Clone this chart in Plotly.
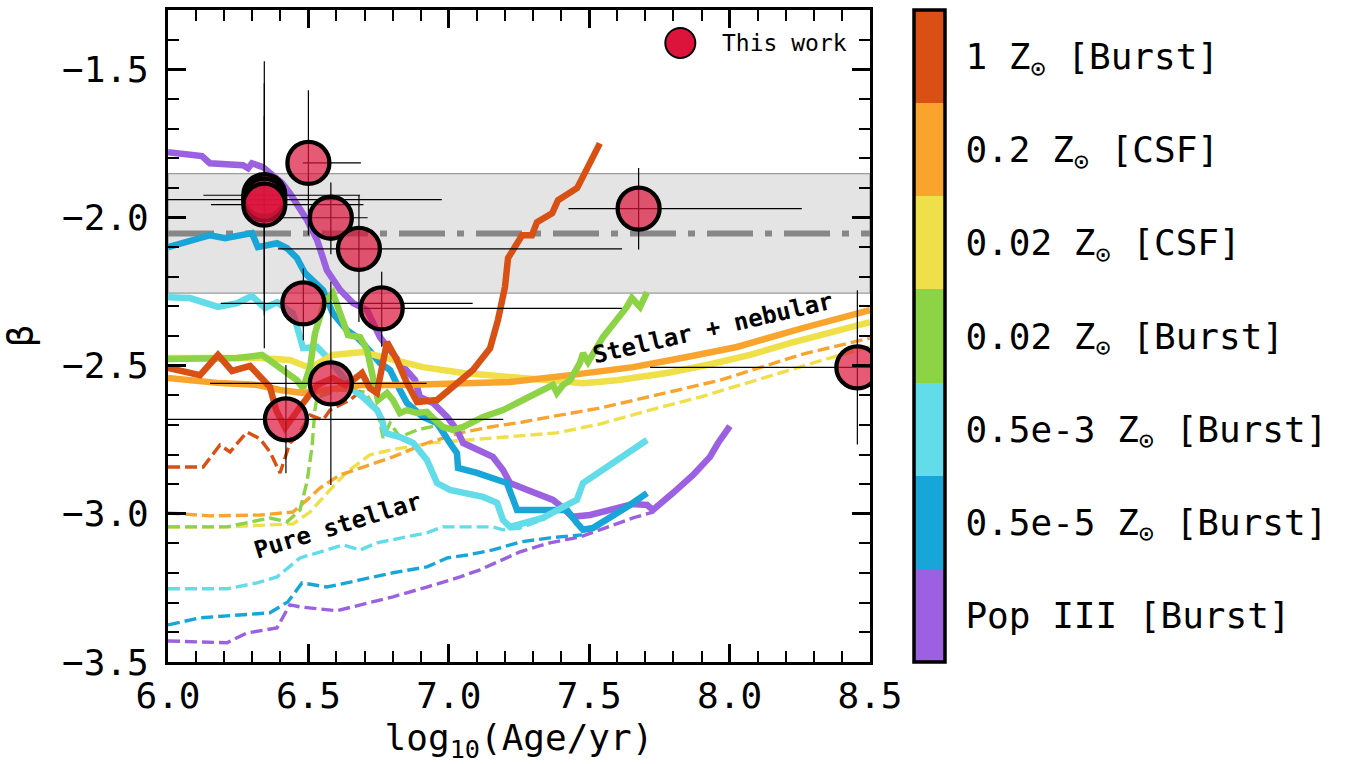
import plotly.graph_objects as go

# ---------------- model tracks (log10 age, beta) ----------------
# Pop III [Burst]
popIII_x = [6.000, 6.121, 6.149, 6.267, 6.285, 6.299, 6.338, 6.363, 6.406, 6.434, 6.495, 6.531, 6.566, 6.613, 6.659,
            6.709, 6.755, 6.826, 6.880, 6.897, 6.944, 6.994, 7.029, 7.051, 7.111, 7.157, 7.193, 7.218, 7.278, 7.371,
            7.407, 7.439, 7.503, 7.599, 7.656, 7.706, 7.727, 7.798, 7.870, 7.930, 7.959, 8.001]
popIII_y = [-1.780, -1.793, -1.817, -1.824, -1.834, -1.817, -1.830, -1.851, -1.884, -1.918, -2.009, -2.076, -2.178, -2.245, -2.289,
            -2.313, -2.404, -2.491, -2.549, -2.606, -2.626, -2.673, -2.717, -2.761, -2.785, -2.808, -2.852, -2.896, -2.919, -2.953,
            -2.980, -3.010, -3.004, -2.980, -2.967, -2.970, -2.987, -2.930, -2.869, -2.808, -2.761, -2.704]
popIII_st_x = [6.000, 6.210, 6.281, 6.388, 6.434, 6.470, 6.602, 6.684, 6.801, 6.922, 7.040, 7.111, 7.254, 7.360, 7.467,
               7.538, 7.656, 7.727]
popIII_st_y = [-3.429, -3.435, -3.402, -3.385, -3.307, -3.314, -3.327, -3.307, -3.280, -3.247, -3.213, -3.189, -3.128, -3.098, -3.078,
               -3.054, -3.014, -2.994]

# 0.5e-5 Zsun [Burst]
z5e5_x = [6.000, 6.150, 6.203, 6.299, 6.320, 6.353, 6.388, 6.424, 6.459, 6.488, 6.516, 6.552, 6.587, 6.637, 6.673, 6.694,
          6.755, 6.791, 6.826, 6.851, 6.908, 6.958, 7.004, 7.029, 7.033, 7.100, 7.207, 7.229, 7.243, 7.335, 7.421, 7.456,
          7.478, 7.513, 7.563, 7.634, 7.706]
z5e5_y = [-2.100, -2.060, -2.070, -2.053, -2.100, -2.093, -2.087, -2.104, -2.137, -2.188, -2.211, -2.245, -2.323, -2.380, -2.404, -2.424,
          -2.491, -2.515, -2.582, -2.626, -2.673, -2.694, -2.761, -2.795, -2.845, -2.862, -2.896, -2.953, -2.987, -2.987, -2.987, -3.031,
          -3.054, -3.048, -3.021, -2.977, -2.930]
z5e5_st_x = [6.000, 6.114, 6.363, 6.427, 6.477, 6.566, 6.684, 6.801, 6.922, 6.994, 7.065, 7.157, 7.254, 7.360, 7.474]
z5e5_st_y = [-3.375, -3.351, -3.334, -3.297, -3.233, -3.247, -3.223, -3.199, -3.179, -3.149, -3.139, -3.122, -3.095, -3.081, -3.071]

# 0.5e-3 Zsun [Burst]
z5e3_x = [6.000, 6.078, 6.178, 6.246, 6.299, 6.345, 6.388, 6.445, 6.463, 6.481, 6.531, 6.566, 6.623, 6.659, 6.694, 6.744,
          6.762, 6.773, 6.826, 6.873, 6.922, 6.958, 7.004, 7.122, 7.172, 7.193, 7.218, 7.264, 7.335, 7.421, 7.456, 7.478,
          7.538, 7.634, 7.706]
z5e3_y = [-2.269, -2.272, -2.302, -2.289, -2.265, -2.306, -2.286, -2.323, -2.380, -2.441, -2.437, -2.471, -2.538, -2.582, -2.606, -2.650,
          -2.683, -2.727, -2.741, -2.761, -2.818, -2.896, -2.919, -2.943, -2.963, -3.021, -3.044, -3.031, -3.014, -2.970, -2.953, -2.896,
          -2.859, -2.801, -2.751]
z5e3_st_x = [6.000, 6.210, 6.317, 6.388, 6.470, 6.541, 6.623, 6.684, 6.744, 6.922, 6.979, 7.157, 7.193, 7.254, 7.342]
z5e3_st_y = [-3.253, -3.253, -3.233, -3.213, -3.149, -3.128, -3.105, -3.122, -3.098, -3.064, -3.044, -3.044, -3.054, -3.048, -3.017]

# 0.02 Zsun [Burst]
z02b_x = [6.000, 6.246, 6.335, 6.399, 6.459, 6.481, 6.506, 6.523, 6.541, 6.556, 6.587, 6.623, 6.641, 6.684, 6.709, 6.737,
          6.748, 6.780, 6.801, 6.826, 6.851, 6.887, 6.922, 6.944, 6.979, 7.015, 7.051, 7.122, 7.193, 7.264, 7.335, 7.371,
          7.385, 7.407, 7.432, 7.467, 7.478, 7.496, 7.549, 7.599, 7.634, 7.652, 7.681, 7.706]
z02b_y = [-2.478, -2.474, -2.464, -2.505, -2.549, -2.576, -2.505, -2.393, -2.336, -2.289, -2.255, -2.346, -2.397, -2.404, -2.447, -2.572,
          -2.616, -2.592, -2.616, -2.660, -2.650, -2.660, -2.656, -2.677, -2.707, -2.717, -2.707, -2.673, -2.650, -2.616, -2.582, -2.565,
          -2.592, -2.565, -2.549, -2.491, -2.458, -2.488, -2.404, -2.346, -2.302, -2.272, -2.302, -2.252]
z02b_st_x = [6.000, 6.210, 6.363, 6.424, 6.470, 6.495, 6.513, 6.523, 6.531, 6.612, 6.702, 6.748, 6.766, 6.791, 6.826, 6.887, 6.969]
z02b_st_y = [-3.044, -3.044, -3.014, -3.027, -2.987, -2.892, -2.774, -2.650, -2.606, -2.582, -2.589, -2.660, -2.744, -2.694, -2.741, -2.717, -2.700]

# 0.02 Zsun [CSF]
z02c_x = [6.000, 6.328, 6.434, 6.506, 6.587, 6.694, 6.765, 6.908, 7.051, 7.218, 7.396, 7.478, 7.599, 7.777, 7.919, 8.073,
          8.215, 8.368, 8.500]
z02c_y = [-2.474, -2.474, -2.481, -2.508, -2.464, -2.454, -2.471, -2.505, -2.525, -2.538, -2.552, -2.559, -2.549, -2.525, -2.498, -2.464,
          -2.424, -2.383, -2.353]
z02c_st_x = [6.000, 6.210, 6.445, 6.506, 6.577, 6.637, 6.719, 6.791, 6.933, 7.147, 7.385, 7.538, 7.716, 7.895, 8.073, 8.251,
             8.368, 8.500]
z02c_st_y = [-3.044, -3.044, -3.034, -2.994, -2.919, -2.859, -2.801, -2.785, -2.761, -2.744, -2.727, -2.697, -2.650, -2.606, -2.555, -2.505,
             -2.471, -2.437]

# 0.2 Zsun [CSF]
z2c_x = [6.000, 6.185, 6.317, 6.399, 6.481, 6.694, 6.837, 7.218, 7.432, 7.656, 7.848, 8.026, 8.261, 8.500]
z2c_y = [-2.542, -2.559, -2.565, -2.582, -2.592, -2.565, -2.565, -2.555, -2.532, -2.505, -2.471, -2.437, -2.373, -2.313]
z2c_st_x = [6.000, 6.150, 6.328, 6.445, 6.495, 6.541, 6.612, 6.684, 6.801, 6.922, 7.040, 7.147, 7.264, 7.360, 7.538, 7.727,
            7.966, 8.261, 8.500]
z2c_st_y = [-2.997, -3.007, -3.004, -2.994, -2.953, -2.913, -2.869, -2.845, -2.808, -2.761, -2.727, -2.707, -2.690, -2.673, -2.643, -2.602,
            -2.549, -2.461, -2.407]

# 1 Zsun [Burst]
z1b_x = [6.000, 6.114, 6.178, 6.228, 6.292, 6.320, 6.363, 6.385, 6.417, 6.470, 6.531, 6.587, 6.630, 6.659, 6.691, 6.719,
         6.744, 6.780, 6.815, 6.851, 6.887, 6.958, 7.015, 7.086, 7.147, 7.175, 7.200, 7.211, 7.261, 7.296, 7.314, 7.368,
         7.389, 7.457, 7.538]
z1b_y = [-2.508, -2.532, -2.464, -2.518, -2.501, -2.532, -2.572, -2.650, -2.710, -2.640, -2.565, -2.542, -2.565, -2.549, -2.525, -2.576,
         -2.592, -2.420, -2.481, -2.559, -2.623, -2.616, -2.572, -2.515, -2.441, -2.346, -2.235, -2.137, -2.060, -2.060, -2.016, -1.986,
         -1.942, -1.901, -1.750]
z1b_st_x = [6.000, 6.125, 6.185, 6.221, 6.281, 6.328, 6.363, 6.399, 6.434, 6.459, 6.506, 6.552, 6.577, 6.648, 6.691]
z1b_st_y = [-2.842, -2.842, -2.768, -2.791, -2.724, -2.747, -2.791, -2.862, -2.761, -2.741, -2.667, -2.683, -2.650, -2.616, -2.582]

# ---------------- observations ("This work") ----------------
obs_age = [6.343, 6.343, 6.343, 6.500, 6.580, 6.680, 6.482, 6.761, 6.580, 6.420, 7.676, 8.455]
obs_beta = [-1.925, -1.940, -1.957, -1.816, -2.001, -2.106, -2.290, -2.307, -2.560, -2.681, -1.970, -2.506]
obs_age_lo = [0.217, 0.390, 0.190, 0.020, 0.175, 0.288, 0.294, 0.077, 0.430, 0.450, 0.250, 0.738]
obs_age_hi = [0.341, 0.632, 0.353, 0.187, 0.131, 0.937, 0.603, 0.855, 0.341, 0.774, 0.581, 0.740]
obs_beta_lo = [0.516, 0.390, 0.300, 0.244, 0.123, 0.247, 0.124, 0.129, 0.343, 0.182, 0.138, 0.260]
obs_beta_hi = [0.452, 0.393, 0.300, 0.245, 0.119, 0.181, 0.118, 0.124, 0.343, 0.183, 0.137, 0.260]

# reference band
band_beta_low = -2.255
band_beta_high = -1.852
band_beta_mid = -2.054

# colour categories (bottom -> top of colour bar)
cat_labels = ["Pop III [Burst]", "0.5e-5 Z<sub>⊙</sub> [Burst]", "0.5e-3 Z<sub>⊙</sub> [Burst]",
              "0.02 Z<sub>⊙</sub> [Burst]", "0.02 Z<sub>⊙</sub> [CSF]", "0.2 Z<sub>⊙</sub> [CSF]",
              "1 Z<sub>⊙</sub> [Burst]"]
cat_colors = ["#9B61E0", "#18A5D8", "#62DCE8", "#8CD446", "#EFE04A", "#F9A42C", "#D85014"]

FONT = "DejaVu Sans Mono"

fig = go.Figure()

# band + mean line
fig.add_shape(type="rect", xref="paper", x0=0, x1=1, yref="y", y0=band_beta_low, y1=band_beta_high,
              fillcolor="#E4E4E4", line=dict(color="#9C9C9C", width=1.3), layer="below")
fig.add_shape(type="line", xref="paper", x0=0, x1=1, yref="y", y0=band_beta_mid, y1=band_beta_mid,
              line=dict(color="#878787", width=6, dash="46px,12px,7px,12px"), layer="below")

# dashed (pure stellar) tracks
dashed = [
    (popIII_st_x, popIII_st_y, cat_colors[0]),
    (z5e5_st_x, z5e5_st_y, cat_colors[1]),
    (z5e3_st_x, z5e3_st_y, cat_colors[2]),
    (z02c_st_x, z02c_st_y, cat_colors[4]),
    (z2c_st_x, z2c_st_y, cat_colors[5]),
    (z02b_st_x, z02b_st_y, cat_colors[3]),
    (z1b_st_x, z1b_st_y, cat_colors[6]),
]
for xs, ys, c in dashed:
    fig.add_trace(go.Scatter(x=xs, y=ys, mode="lines", line=dict(color=c, width=3.4, dash="12px,5px"),
                             showlegend=False, hoverinfo="skip"))

# solid (stellar + nebular) tracks
solid = [
    (popIII_x, popIII_y, cat_colors[0]),
    (z5e5_x, z5e5_y, cat_colors[1]),
    (z5e3_x, z5e3_y, cat_colors[2]),
    (z02c_x, z02c_y, cat_colors[4]),
    (z2c_x, z2c_y, cat_colors[5]),
    (z02b_x, z02b_y, cat_colors[3]),
    (z1b_x, z1b_y, cat_colors[6]),
]
for xs, ys, c in solid:
    fig.add_trace(go.Scatter(x=xs, y=ys, mode="lines", line=dict(color=c, width=6.5),
                             showlegend=False, hoverinfo="skip"))

# observations
fig.add_trace(go.Scatter(
    x=obs_age, y=obs_beta, mode="markers", showlegend=False,
    marker=dict(size=42, color="rgba(220,20,60,0.7)", line=dict(color="black", width=4.3)),
    error_x=dict(type="data", symmetric=False, array=obs_age_hi, arrayminus=obs_age_lo,
                 color="black", thickness=1.2, width=0),
    error_y=dict(type="data", symmetric=False, array=obs_beta_hi, arrayminus=obs_beta_lo,
                 color="black", thickness=1.2, width=0),
))

# discrete colour bar
n = len(cat_colors)
cscale = []
for i, c in enumerate(cat_colors):
    cscale.append([i / n, c])
    cscale.append([(i + 1) / n, c])
fig.add_trace(go.Scatter(
    x=[None], y=[None], mode="markers", showlegend=False, hoverinfo="skip",
    marker=dict(color=[0], cmin=-0.5, cmax=n - 0.5, colorscale=cscale, showscale=True,
                colorbar=dict(thickness=31, thicknessmode="pixels", len=1, lenmode="fraction",
                              y=0.5, yanchor="middle", x=1.0625, xanchor="left", xpad=0, ypad=0,
                              outlinewidth=3.5, outlinecolor="black",
                              tickvals=list(range(n)), ticktext=cat_labels,
                              ticks="outside", ticklen=12, tickcolor="rgba(0,0,0,0)",
                              tickfont=dict(family=FONT, size=36, color="black"))),
))

# legend (This work)
fig.add_shape(type="circle", xref="paper", yref="paper", xsizemode="pixel", ysizemode="pixel",
              xanchor=0.7298, yanchor=0.9494, x0=-15, x1=15, y0=-15, y1=15,
              fillcolor="#DC143C", line=dict(color="black", width=2))
fig.add_annotation(xref="paper", yref="paper", x=0.787, y=0.9494, xanchor="left", yanchor="middle",
                   text="This work", showarrow=False, font=dict(family=FONT, size=23, color="black"))

# curve labels
fig.add_annotation(x=6.602, y=-3.040, text="Pure stellar", showarrow=False, textangle=-17,
                   font=dict(family=FONT, size=24, color="black", weight="bold"))
fig.add_annotation(x=7.941, y=-2.372, text="Stellar + nebular", showarrow=False, textangle=-13,
                   font=dict(family=FONT, size=24, color="black", weight="bold"))

axis_common = dict(
    showgrid=False, zeroline=False, showline=True, linewidth=3, linecolor="black", mirror="ticks",
    ticks="inside", ticklen=18, tickwidth=3, tickcolor="black", automargin=False,
    tickfont=dict(family=FONT, size=36, color="black"), tickformat=".1f",
    minor=dict(ticks="inside", ticklen=11, tickwidth=1.5, tickcolor="black", dtick=0.1),
)
fig.update_xaxes(range=[6.0, 8.5], dtick=0.5, tick0=6.0, ticklabelstandoff=0,
                 title=dict(text="log<sub>10</sub>(Age/yr)", font=dict(family=FONT, size=36, color="black"), standoff=22),
                 **axis_common)
fig.update_yaxes(range=[-3.5, -1.3], dtick=0.5, tick0=-3.5, ticklabelstandoff=9,
                 title=dict(text="β", font=dict(family=FONT, size=36, color="black"), standoff=18),
                 **axis_common)

fig.update_layout(
    width=1345, height=764, margin=dict(l=168, r=475, t=10, b=102, autoexpand=False),
    plot_bgcolor="white", paper_bgcolor="white", showlegend=False,
    font=dict(family=FONT, color="black"),
)

fig.write_html("out.html", config={"displayModeBar": False},
               post_script="document.body.style.margin='0px';")
